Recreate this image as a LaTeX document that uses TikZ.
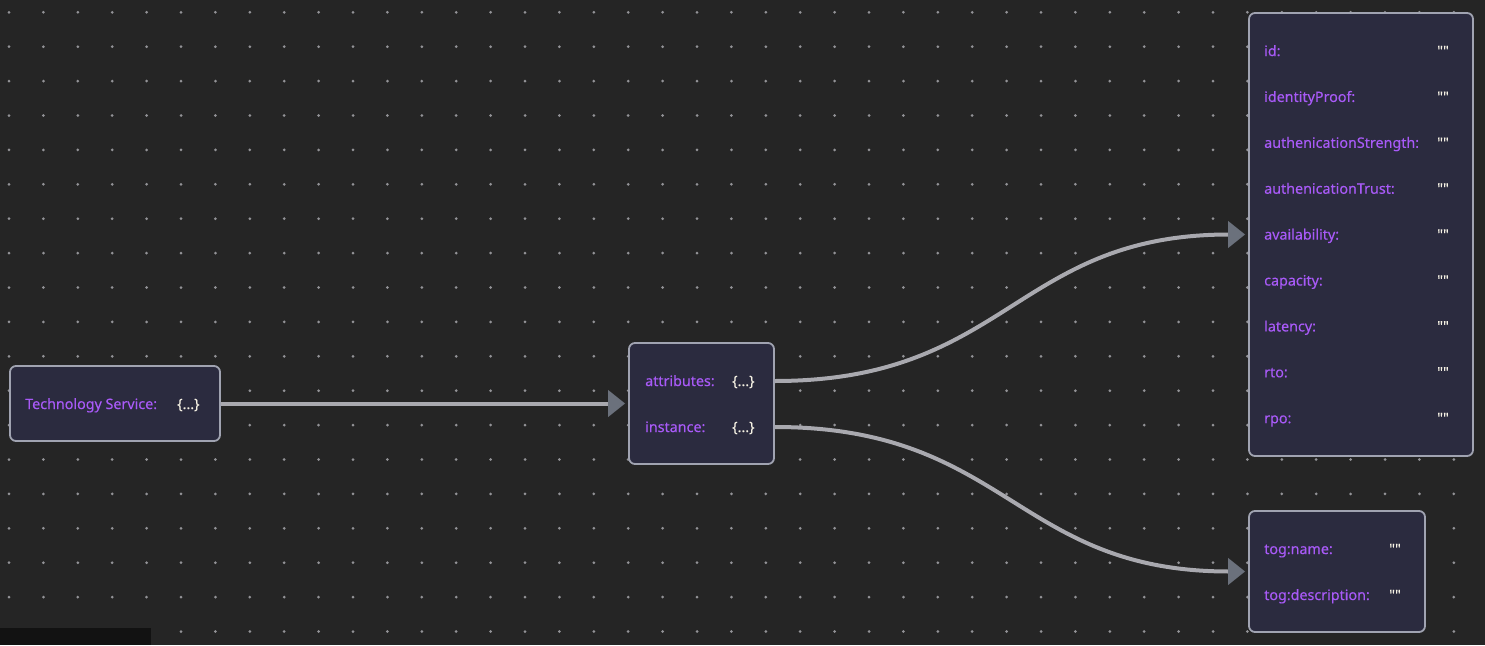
\documentclass[tikz,border=0pt]{standalone}
\usepackage{fontspec}
\setmainfont{Noto Sans}
\newfontfamily\uifont{Noto Sans}[FakeBold=0.3]
\usetikzlibrary{arrows.meta}

\definecolor{canvas}{HTML}{252525}
\definecolor{griddot}{HTML}{939397}
\definecolor{cornershade}{HTML}{121212}
\definecolor{boxfill}{HTML}{2B2B3F}
\definecolor{boxline}{HTML}{A0A3B1}
\definecolor{keypurple}{HTML}{A85AF7}
\definecolor{valwhite}{HTML}{F6F2E4}
\definecolor{linkgray}{HTML}{A9A9AF}
\definecolor{tipgray}{HTML}{6B717C}

\begin{document}
\begin{tikzpicture}[
    x=1pt,y=-1pt,
    box/.style={rectangle,draw=boxline,fill=boxfill,line width=1.8pt,rounded corners=6pt,inner sep=0pt},
    key/.style={anchor=west,inner sep=0pt,text height=12pt,text depth=2pt,text=keypurple,font=\uifont\fontsize{14.3}{16}\selectfont},
    val/.style={key,text=valwhite},
    link/.style={draw=linkgray,line width=4pt,shorten >=3pt,-{Triangle[length=17pt,width=26pt,color=tipgray]}}
    ]

    % canvas and dot grid:
    \fill[canvas] (0,0) rectangle (1485,645);
    \useasboundingbox (0,0) rectangle (1485,645);
    \foreach \i in {0,...,42}
    \foreach \j in {0,...,18}
    \fill[griddot] (9 + \i * 34.4, 12.3 + \j * 34.4) circle (1.5);
    \fill[cornershade] (0,628) rectangle (151,645);

    % boxes:
    \node (service) at (115, 403.5) [box,minimum width=210pt,minimum height=75pt] {};
    \node (object) at (701.5, 403.5) [box,minimum width=145pt,minimum height=121pt] {};
    \node (attrs) at (1361, 234.5) [box,minimum width=224pt,minimum height=443pt] {};
    \node (inst) at (1337, 571.5) [box,minimum width=176pt,minimum height=121pt] {};

    % service box:
    \node (servicekey) at (25, 404) [key] {Technology Service:};
    \node (serviceval) at (177, 404) [val] {\{...\}};

    % object box:
    \node (attrkey) at (645, 381) [key] {attributes:};
    \node (attrval) at (732, 381) [val] {\{...\}};
    \node (instkey) at (645, 427) [key] {instance:};
    \node (instval) at (732, 427) [val] {\{...\}};

    % attribute fields:
    \foreach \name [count=\n from 0] in {id,identityProof,authenicationStrength,authenicationTrust,availability,capacity,latency,rto,rpo} {
      \node (a\n) at (1264, 51 + \n * 45.9) [key] {\name:};
      \node (av\n) at (1437, 51 + \n * 45.9) [val] {\symbol{34}\symbol{34}};
    }

    % instance fields:
    \node (tname) at (1264, 549) [key] {tog:name:};
    \node (tnameval) at (1389, 549) [val] {\symbol{34}\symbol{34}};
    \node (tdesc) at (1264, 595) [key] {tog:description:};
    \node (tdescval) at (1389, 595) [val] {\symbol{34}\symbol{34}};

    % connections:
    \draw [link] (service) to (object);
    \draw [link] (object.east |- attrkey.west) to[out=0,in=180,looseness=1.2] (attrs.west);
    \draw [link] (object.east |- instkey.west) to[out=0,in=180,looseness=1.2] (inst.west);

  \end{tikzpicture}
\end{document}
